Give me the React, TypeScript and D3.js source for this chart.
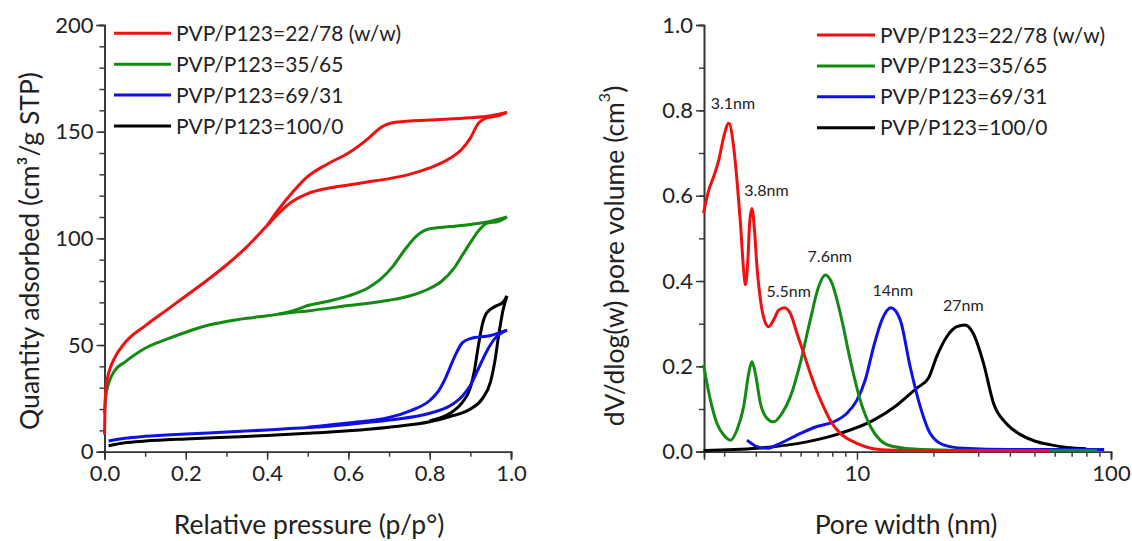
import React, { useEffect, useRef } from 'react';
import * as d3 from 'd3';

// isotherm data: [relative pressure, quantity adsorbed]
const redAds = [[0.0, 8], [0.002, 25], [0.006, 33], [0.012, 38], [0.025, 44], [0.05, 51], [0.1, 59], [0.15, 66], [0.2, 73], [0.25, 80], [0.3, 87.5], [0.35, 96], [0.4, 106], [0.43, 112], [0.46, 117], [0.5, 121], [0.55, 123.5], [0.6, 125], [0.65, 126.5], [0.7, 128], [0.75, 130], [0.8, 133], [0.85, 137.5], [0.88, 142], [0.9, 147], [0.92, 154], [0.94, 156.5], [0.97, 157.5], [0.99, 159]];
const redDes = [[0.4, 106], [0.43, 114], [0.46, 121], [0.5, 129], [0.55, 135], [0.6, 140], [0.65, 147], [0.68, 152], [0.72, 154.5], [0.8, 155.5], [0.9, 156.5], [0.95, 157.5], [0.99, 159]];
const greenAds = [[0.0, 18], [0.002, 24], [0.006, 29], [0.012, 33], [0.025, 38], [0.05, 42], [0.1, 48.5], [0.15, 52.5], [0.2, 56], [0.25, 59], [0.3, 61], [0.35, 62.5], [0.4, 63.7], [0.45, 65], [0.5, 66], [0.6, 68.5], [0.7, 71], [0.75, 73], [0.8, 76.5], [0.83, 80], [0.86, 86], [0.88, 92], [0.9, 98], [0.92, 103.5], [0.94, 107], [0.97, 108], [0.99, 110]];
const greenDes = [[0.43, 64.5], [0.47, 66.5], [0.5, 68.5], [0.55, 70.5], [0.6, 73], [0.65, 77], [0.68, 81], [0.71, 87], [0.74, 95], [0.77, 101.5], [0.8, 104.5], [0.85, 105.5], [0.9, 106.5], [0.95, 108], [0.99, 110]];
const blueAds = [[0.01, 5], [0.05, 6.3], [0.1, 7.2], [0.2, 8.3], [0.3, 9.2], [0.4, 10.2], [0.5, 11.3], [0.6, 12.8], [0.7, 14.8], [0.8, 18], [0.85, 21.5], [0.88, 26], [0.9, 31], [0.92, 39], [0.94, 47], [0.96, 53], [0.99, 57]];
const blueDes = [[0.5, 11.5], [0.6, 13.5], [0.7, 16], [0.75, 19], [0.8, 24], [0.82, 28], [0.84, 35], [0.86, 44], [0.88, 51], [0.9, 53], [0.95, 54.5], [0.99, 57]];
const blackAds = [[0.01, 2.8], [0.05, 4.2], [0.1, 5], [0.2, 6], [0.3, 6.8], [0.4, 7.6], [0.5, 8.6], [0.6, 9.8], [0.7, 11.5], [0.8, 14], [0.85, 16.5], [0.9, 20], [0.93, 25], [0.95, 33], [0.96, 42], [0.97, 55], [0.98, 66], [0.99, 73]];
const blackDes = [[0.8, 14.5], [0.85, 18], [0.88, 23], [0.9, 30], [0.91, 38], [0.92, 50], [0.93, 60], [0.94, 65], [0.96, 68], [0.98, 70], [0.99, 73]];

// pore size distribution: [pore width nm, dV/dlog(w)]
const redPsd = [[2.49, 0.559], [2.61, 0.613], [2.73, 0.645], [2.86, 0.684], [2.99, 0.738], [3.13, 0.77], [3.27, 0.715], [3.37, 0.637], [3.48, 0.535], [3.58, 0.426], [3.64, 0.391], [3.72, 0.449], [3.78, 0.535], [3.86, 0.57], [3.95, 0.52], [4.04, 0.434], [4.17, 0.356], [4.32, 0.309], [4.49, 0.293], [4.7, 0.309], [4.92, 0.332], [5.18, 0.3375], [5.47, 0.324], [5.81, 0.277], [6.17, 0.231], [6.55, 0.184], [6.96, 0.141], [7.39, 0.105], [7.97, 0.0665], [8.6, 0.043], [10, 0.0197], [12, 0.006], [15, 0.003], [20, 0.002], [30, 0.002], [57, 0.002]];
const greenPsd = [[2.49, 0.203], [2.65, 0.121], [2.81, 0.0665], [2.99, 0.039], [3.18, 0.027], [3.37, 0.051], [3.58, 0.105], [3.75, 0.184], [3.86, 0.211], [3.98, 0.184], [4.17, 0.113], [4.43, 0.078], [4.7, 0.07], [5.07, 0.09], [5.47, 0.129], [5.98, 0.207], [6.55, 0.309], [7.07, 0.387], [7.5, 0.414], [7.97, 0.395], [8.6, 0.324], [9.41, 0.215], [10.3, 0.121], [11.3, 0.059], [12.35, 0.027], [13.9, 0.012], [18, 0.005], [30, 0.003], [60, 0.003], [88, 0.003]];
const bluePsd = [[3.69, 0.027], [4.04, 0.012], [4.43, 0.008], [4.99, 0.0197], [5.81, 0.039], [6.96, 0.059], [8.1, 0.07], [9.13, 0.09], [10, 0.121], [10.78, 0.168], [11.63, 0.246], [12.54, 0.309], [13.6, 0.3375], [14.8, 0.309], [16.2, 0.199], [17.76, 0.105], [19.4, 0.043], [21.9, 0.016], [26.3, 0.008], [40, 0.005], [94, 0.005]];
const blackPsd = [[2.49, 0.003], [4.04, 0.008], [6.35, 0.023], [8.6, 0.043], [11.63, 0.074], [14.36, 0.109], [17.2, 0.149], [19.1, 0.172], [20.6, 0.223], [22.6, 0.27], [24.7, 0.293], [26.6, 0.297], [28.7, 0.277], [31.5, 0.207], [34.5, 0.113], [38.9, 0.065], [44, 0.04], [50, 0.025], [58, 0.016], [67, 0.01], [80, 0.007]];

const seriesNames = ['PVP/P123=22/78 (w/w)', 'PVP/P123=35/65', 'PVP/P123=69/31', 'PVP/P123=100/0'];
const seriesColors = ['#f01010', '#138a13', '#1010e8', '#000000'];

const peakLabels = ['3.1nm', '3.8nm', '5.5nm', '7.6nm', '14nm', '27nm'];
const peakWidths = [3.25, 4.4, 5.39, 7.82, 13.83, 26.2];
const peakHeights = [0.803, 0.6, 0.3626, 0.4446, 0.365, 0.33];

const leftXTicks = [0, 0.2, 0.4, 0.6, 0.8, 1.0];
const leftYTicks = [0, 50, 100, 150, 200];
const rightXTicks = [10, 100];
const rightYTicks = [0, 0.2, 0.4, 0.6, 0.8, 1.0];

const FONT = 'Lato, "Open Sans", sans-serif';

function App() {
    const ref = useRef<SVGSVGElement>(null);

    useEffect(() => {
        const svg = d3.select(ref.current);
        svg.selectAll('*').remove();

        const axisColor = '#333';

        const styleAxis = (g: any, size: number) => {
            g.select('.domain').attr('stroke', axisColor).attr('stroke-width', 1.6);
            g.selectAll('.tick line').attr('stroke', axisColor).attr('stroke-width', 1.4);
            g.selectAll('text').attr('fill', '#222').style('font-size', `${size}px`).style('font-family', FONT);
        };

        //* * left: isotherms * *//
        const lx = d3.scaleLinear().domain([0, 1]).range([104.5, 511]);
        const ly = d3.scaleLinear().domain([0, 200]).range([451.7, 25]);

        const left = svg.append('g');

        // minor ticks
        left.append('g')
            .attr('transform', 'translate(0,451.7)')
            .call(d3.axisBottom(lx).tickValues(d3.range(0, 1.01, 0.1)).tickSize(5).tickFormat(() => ''))
            .call((g) => styleAxis(g, 22));
        left.append('g')
            .attr('transform', 'translate(104.5,0)')
            .call(d3.axisLeft(ly).tickValues(d3.range(0, 201, 10)).tickSize(5).tickFormat(() => ''))
            .call((g) => styleAxis(g, 22));
        left.append('g')
            .attr('transform', 'translate(0,451.7)')
            .call(d3.axisBottom(lx).tickValues(leftXTicks).tickSize(8).tickPadding(6).tickFormat(d3.format('.1f')))
            .call((g) => styleAxis(g, 22));
        left.append('g')
            .attr('transform', 'translate(104.5,0)')
            .call(d3.axisLeft(ly).tickValues(leftYTicks).tickSize(8).tickPadding(3))
            .call((g) => styleAxis(g, 22));

        const lline = d3.line<number[]>()
            .x((d) => lx(d[0]))
            .y((d) => ly(d[1]))
            .curve(d3.curveMonotoneX);

        const iso = [[redAds, redDes], [greenAds, greenDes], [blueAds, blueDes], [blackAds, blackDes]];
        // draw black first so red ends up on top
        [3, 2, 1, 0].forEach((i) => {
            iso[i].forEach((branch) => {
                left.append('path')
                    .attr('d', lline(branch))
                    .attr('fill', 'none')
                    .attr('stroke', seriesColors[i])
                    .attr('stroke-width', 3);
            });
        });

        left.append('text')
            .attr('x', 309)
            .attr('y', 534)
            .attr('text-anchor', 'middle')
            .style('font-size', '26.5px')
            .style('font-family', FONT)
            .attr('fill', '#222')
            .text('Relative pressure (p/p°)');

        left.append('text')
            .attr('transform', 'translate(39,251) rotate(-90)')
            .attr('text-anchor', 'middle')
            .style('font-size', '26.5px')
            .style('font-family', FONT)
            .attr('fill', '#222')
            .text('Quantity adsorbed (cm³/g STP)');

        // legend
        seriesNames.forEach((name, i) => {
            const y = 33.3 + i * 30.9;
            left.append('line')
                .attr('x1', 114).attr('x2', 171)
                .attr('y1', y).attr('y2', y)
                .attr('stroke', seriesColors[i])
                .attr('stroke-width', 3);
            left.append('text')
                .attr('x', 176)
                .attr('y', y)
                .attr('dy', '0.36em')
                .style('font-size', '21px')
                .style('font-family', FONT)
                .attr('fill', '#222')
                .text(name);
        });

        //* * right: pore size distribution * *//
        const rx = d3.scaleLog().domain([2.5, 100]).range([704, 1111]);
        const ry = d3.scaleLinear().domain([0, 1]).range([451.7, 25]);

        const right = svg.append('g');

        const minorX = [3, 4, 5, 6, 7, 8, 9, 20, 30, 40, 50, 60, 70, 80, 90];
        right.append('g')
            .attr('transform', 'translate(0,451.7)')
            .call(d3.axisBottom(rx).tickValues(minorX).tickSize(5).tickFormat(() => ''))
            .call((g) => styleAxis(g, 22));
        right.append('g')
            .attr('transform', 'translate(704,0)')
            .call(d3.axisLeft(ry).tickValues(d3.range(0, 1.01, 0.1)).tickSize(5).tickFormat(() => ''))
            .call((g) => styleAxis(g, 22));
        right.append('g')
            .attr('transform', 'translate(0,451.7)')
            .call(d3.axisBottom(rx).tickValues(rightXTicks).tickSize(8).tickPadding(6).tickFormat(d3.format('d')))
            .call((g) => styleAxis(g, 22));
        right.append('g')
            .attr('transform', 'translate(704,0)')
            .call(d3.axisLeft(ry).tickValues(rightYTicks).tickSize(8).tickPadding(3).tickFormat(d3.format('.1f')))
            .call((g) => styleAxis(g, 22));

        const rline = d3.line<number[]>()
            .x((d) => rx(d[0]))
            .y((d) => ry(d[1]))
            .curve(d3.curveMonotoneX);

        const psd = [redPsd, greenPsd, bluePsd, blackPsd];
        [3, 2, 1, 0].forEach((i) => {
            right.append('path')
                .attr('d', rline(psd[i]))
                .attr('fill', 'none')
                .attr('stroke', seriesColors[i])
                .attr('stroke-width', 3);
        });

        peakLabels.forEach((label, i) => {
            right.append('text')
                .attr('x', rx(peakWidths[i]))
                .attr('y', ry(peakHeights[i]))
                .attr('text-anchor', 'middle')
                .style('font-size', '16px')
                .style('font-family', FONT)
                .attr('fill', '#222')
                .text(label);
        });

        right.append('text')
            .attr('x', 906)
            .attr('y', 534)
            .attr('text-anchor', 'middle')
            .style('font-size', '26.5px')
            .style('font-family', FONT)
            .attr('fill', '#222')
            .text('Pore width (nm)');

        const ytitle = right.append('text')
            .attr('transform', 'translate(624,256) rotate(-90)')
            .attr('text-anchor', 'middle')
            .style('font-size', '26.5px')
            .style('font-family', FONT)
            .attr('fill', '#222');
        ytitle.append('tspan').text('dV/dlog(w) pore volume (cm');
        ytitle.append('tspan').attr('dy', -14).style('font-size', '16px').text('3');
        ytitle.append('tspan').attr('dy', 14).text(')');

        seriesNames.forEach((name, i) => {
            const y = 35 + i * 30.9;
            right.append('line')
                .attr('x1', 817).attr('x2', 875)
                .attr('y1', y).attr('y2', y)
                .attr('stroke', seriesColors[i])
                .attr('stroke-width', 3);
            right.append('text')
                .attr('x', 880)
                .attr('y', y)
                .attr('dy', '0.36em')
                .style('font-size', '21px')
                .style('font-family', FONT)
                .attr('fill', '#222')
                .text(name);
        });
    }, []);

    return (
        <svg
            ref={ref}
            width={1132}
            height={541}
            style={{ position: 'absolute', left: 0, top: 0, background: '#fff' }}
        />
    );
}

export default App;
